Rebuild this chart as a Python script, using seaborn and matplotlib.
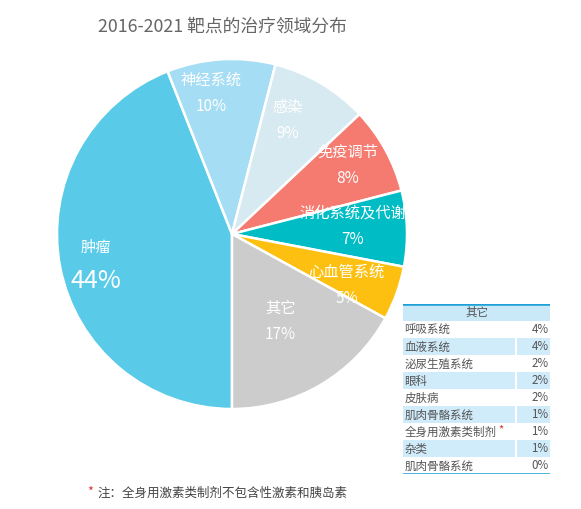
import matplotlib
matplotlib.use("Agg")
import matplotlib.pyplot as plt
import seaborn as sns
import numpy as np

sns.set_theme(style="white")
plt.rcParams['font.family'] = ['Noto Sans CJK SC', 'DejaVu Sans']

# Data
areas = ['肿瘤', '神经系统', '感染', '免疫调节', '消化系统及代谢', '心血管系统', '其它']
shares = [44, 10, 9, 8, 7, 5, 17]
colors = ['#59CBE8', '#A5DDF4', '#D7E9F1', '#F57A70', '#00BCC5', '#FDC010', '#CCCCCC']
# label placement tweaks (radius, angle shift in deg)
label_r = [0.80, 0.81, 0.72, 0.77, 0.69, 0.72, 0.57]
label_da = [2, 5, 4.5, 2, 2, -4.5, -1.5]

other_names = ['呼吸系统', '血液系统', '泌尿生殖系统', '眼科', '皮肤病',
               '肌肉骨骼系统', '全身用激素类制剂', '杂类', '肌肉骨骼系统']
other_shares = [4, 4, 2, 2, 2, 1, 1, 1, 0]

fig = plt.figure(figsize=(5.81, 5.09), dpi=100)

# pie
ax = fig.add_axes([57/581, 100/509, 350/581, 350/509])
wedges, _ = ax.pie(shares, colors=colors, startangle=270, counterclock=False,
                   wedgeprops=dict(edgecolor='white', linewidth=1.8))
ax.set_xlim(-1, 1)
ax.set_ylim(-1, 1)
ax.set_aspect('equal')
ax.axis('off')

for w, name, val, r, da in zip(wedges, areas, shares, label_r, label_da):
    ang = np.deg2rad((w.theta1 + w.theta2) / 2 + da)
    x, y = r * np.cos(ang), r * np.sin(ang)
    big = name == '肿瘤'
    ax.text(x, y + (0.10 if big else 0.075), name, color='white',
            fontsize=11, ha='center', va='center')
    ax.text(x, y - (0.09 if big else 0.075), f'{val}%', color='white',
            fontsize=18 if big else 11, ha='center', va='center')

fig.text(222/581, 1 - 27/509, '2016-2021 靶点的治疗领域分布', color='#666666',
         fontsize=12.8, ha='center', va='center')

# table of "其它"
tx = fig.add_axes([403/581, 35/509, 147/581, 170/509])
n = len(other_names) + 1
tx.set_xlim(0, 1)
tx.set_ylim(n, 0)
tx.axis('off')
tx.axhspan(0, 1, color='#C9E8F8', lw=0)
tx.text(0.5, 0.5, '其它', ha='center', va='center', fontsize=8.3, color='#555555')
for i, (nm, v) in enumerate(zip(other_names, other_shares)):
    row = i + 1
    if i % 2 == 1:
        tx.axhspan(row, row + 1, xmin=0, xmax=0.76, color='#D0EBFA', lw=0)
        tx.axhspan(row, row + 1, xmin=0.775, xmax=1, color='#D0EBFA', lw=0)
    tx.text(0.01, row + 0.55, nm, ha='left', va='center', fontsize=8.3, color='#555555')
    tx.text(0.99, row + 0.5, f'{v}%', ha='right', va='center', fontsize=8.3, color='#555555')
    if nm == '全身用激素类制剂':
        tx.text(0.65, row + 0.4, '*', ha='left', va='center', fontsize=8, color='#E03030')
tx.axhline(0, color='#1A9FD6', lw=1.8)
tx.axhline(n, color='#1A9FD6', lw=1.8)

fig.text(87/581, 1 - 492/509, '*', color='#E03030', fontsize=9, ha='left', va='center')
fig.text(98/581, 1 - 493/509, '注：全身用激素类制剂不包含性激素和胰岛素', color='#444444',
         fontsize=9, ha='left', va='center')

fig.savefig('out.png', dpi=100, facecolor='white')
